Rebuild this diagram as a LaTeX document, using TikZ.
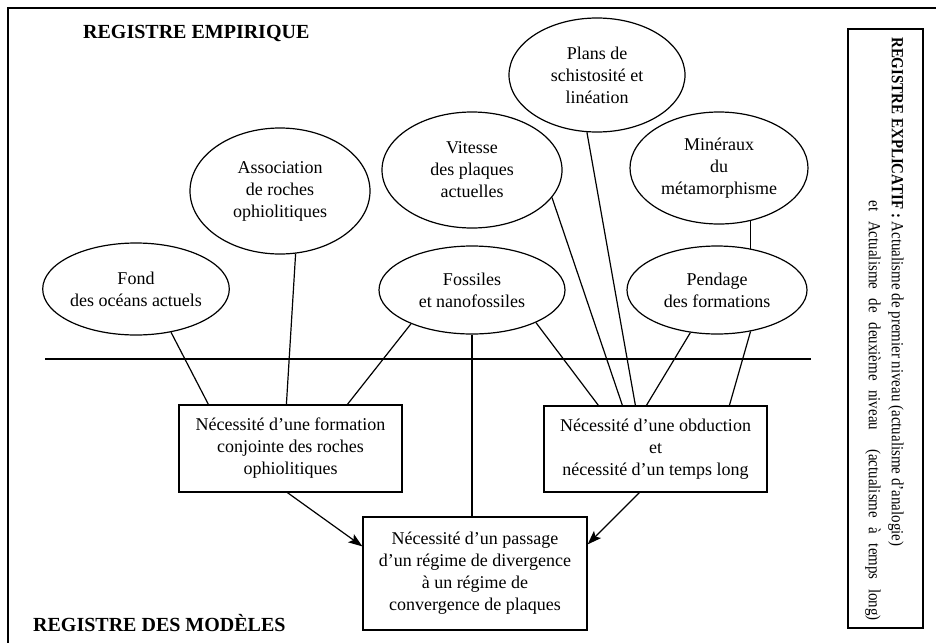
\documentclass[tikz,border=0pt]{standalone}
\usepackage{fontspec}
\setmainfont{Liberation Serif}
\newfontfamily\condfont[FakeStretch=0.88]{Liberation Serif}
\usetikzlibrary{shapes.geometric,arrows.meta,calc}
\begin{document}
\begin{tikzpicture}[x=1pt,y=-1pt,
  every node/.style={font=\fontsize{18}{22}\selectfont, align=center},
  line/.style={line width=1.2pt},
  oval/.style={draw, line width=1.2pt, ellipse, inner sep=0pt},
  box/.style={draw, line width=1.2pt, rectangle, inner sep=0pt},
  arr/.style={line width=1.2pt, -{Stealth[length=14pt,width=10pt,inset=3pt]}},
  title/.style={font=\bfseries\fontsize{20}{24}\selectfont, inner sep=0pt, anchor=west},
  vert/.style={font=\condfont\fontsize{17}{20}\selectfont, inner sep=0pt, rotate=-90},
]
\useasboundingbox (0,0) rectangle (936,643);
\draw[line width=1.5pt] (936,8) -- (8,8) -- (8,643);

% titles
\node[title] (emp) at (83,33) {REGISTRE EMPIRIQUE};
\node[title] (mod) at (33,623) {REGISTRE DES MOD\`ELES};

% ellipses
\node[oval, minimum width=182pt, minimum height=92pt] (fond) at (136,289) {Fond\\des océans actuels};
\node[oval, minimum width=180pt, minimum height=126pt] (assoc) at (280,191) {Association\\de roches\\ophiolitiques};
\node[oval, minimum width=180pt, minimum height=116pt] (vit) at (472,170) {Vitesse\\des plaques\\actuelles};
\node[oval, minimum width=176pt, minimum height=114pt] (plans) at (597,75) {Plans de\\schistosité et\\linéation};
\node[oval, minimum width=178pt, minimum height=112pt] (mine) at (719,168) {Minéraux\\du\\métamorphisme};
\node[oval, minimum width=186pt, minimum height=88pt] (foss) at (472,290) {Fossiles\\et nanofossiles};
\node[oval, minimum width=180pt, minimum height=88pt] (pend) at (717,290) {Pendage\\des formations};

% boxes
\node[box, minimum width=223pt, minimum height=87pt] (lbox) at (290.5,448.5) {Nécessité d’une formation\\conjointe des roches\\ophiolitiques};
\node[box, minimum width=223pt, minimum height=86pt] (rbox) at (655.5,449) {Nécessité d’une obduction\\et\\nécessité d’un temps long};
\node[box, minimum width=224pt, minimum height=113pt] (bbox) at (475,573.5) {Nécessité d’un passage\\d’un régime de divergence\\à un régime de\\convergence de plaques};

% separating line
\coordinate (hl) at (45,359);
\coordinate (hr) at (811,359);
\draw[line] (hl) -- (hr);

% connectors
\draw[line] (fond.-51.5) -- ($(lbox.north west)+(30,0)$);
\draw[line] (assoc.-76.4) -- ($(lbox.north west)+(108,0)$);
\draw[line] (foss.209.5) -- ($(lbox.north west)+(169,0)$);
\draw[line] (foss.south) -- (foss.south |- bbox.north);
\draw[line] (foss.-27.7) -- ($(rbox.north west)+(55,0)$);
\draw[line] (vit.-19.1) -- ($(rbox.north west)+(79,0)$);
\draw[line] (plans.-100) -- ($(rbox.north west)+(92,0)$);
\draw[line] (pend.-122.7) -- ($(rbox.north west)+(103,0)$);
\draw[line] (pend.-51.2) -- ($(rbox.north west)+(186,0)$);
\draw[line] (mine.-59.4) -- (mine.-59.4 |- pend.51.1);

% arrows
\draw[arr] ($(lbox.south west)+(109,0)$) -- ($(bbox.north west)+(0,30)$);
\draw[arr] ($(rbox.south west)+(96,0)$) -- ($(bbox.north east)+(0,28)$);

% explicative register
\node[box, minimum width=75pt, minimum height=599pt] (expl) at (885.5,328.5) {};
\node[vert, anchor=west] (ex1) at (896,37) {\textbf{REGISTRE EXPLICATIF :} Actualisme de premier niveau (actualisme d’analogie)};
\node[vert, anchor=east] (ex2) at (873,621) {\makebox[420pt][s]{et Actualisme de deuxième niveau\ \ (actualisme à temps long)}};
\end{tikzpicture}
\end{document}
